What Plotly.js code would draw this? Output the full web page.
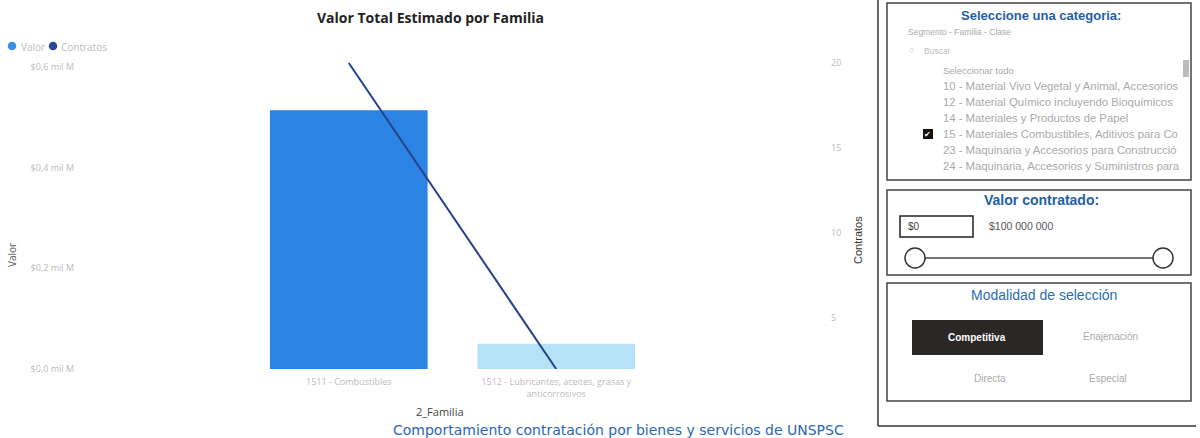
<!DOCTYPE html>
<html>
<head>
<meta charset="utf-8">
<script src="https://cdn.plot.ly/plotly-3.0.1.min.js"></script>
<style>html,body{margin:0;padding:0;background:#fff;}#chart{width:1200px;height:438px;}</style>
</head>
<body>
<div id="chart"></div>
<script>
// ---- data ----
var categories = ["1511 - Combustibles", "1512 - Lubricantes, aceites, grasas y anticorrosivos"];
var categoryLabels = ["1511 - Combustibles", "1512 - Lubricantes, aceites, grasas y<br>anticorrosivos"];
var valor = [0.514, 0.050];          // mil M
var contratos = [20, 2];
var valorTickVals = [0, 0.2, 0.4, 0.6];
var valorTickText = ["$0,0 mil M", "$0,2 mil M", "$0,4 mil M", "$0,6 mil M"];
var contratosTickVals = [5, 10, 15, 20];
var listItems = [
  "Seleccionar todo",
  "10 - Material Vivo Vegetal y Animal, Accesorios",
  "12 - Material Químico incluyendo Bioquímicos",
  "14 - Materiales y Productos de Papel",
  "15 - Materiales Combustibles, Aditivos para Co",
  "23 - Maquinaria y Accesorios para Construcció",
  "24 - Maquinaria, Accesorios y Suministros para"
];

// ---- layout helpers (pixel -> paper) ----
var ML = 75, MR = 370, MT = 55, MB = 69;
var PW = 1200 - ML - MR, PH = 438 - MT - MB;
function X(px) { return (px - ML) / PW; }
function Y(py) { return (438 - MB - py) / PH; }

var shapes = [];
var annotations = [];
function rect(x0, y0, x1, y1, line, fill, lw) {
  shapes.push({type: 'rect', xref: 'paper', yref: 'paper', x0: X(x0), x1: X(x1), y0: Y(y1), y1: Y(y0),
    line: {color: line || 'rgba(0,0,0,0)', width: lw === undefined ? 1.5 : lw}, fillcolor: fill || 'rgba(0,0,0,0)'});
}
function line(x0, y0, x1, y1, color, w) {
  shapes.push({type: 'line', xref: 'paper', yref: 'paper', x0: X(x0), x1: X(x1), y0: Y(y0), y1: Y(y1),
    line: {color: color, width: w}});
}
function circle(cx, cy, r, lineColor, fill) {
  shapes.push({type: 'circle', xref: 'paper', yref: 'paper', x0: X(cx - r), x1: X(cx + r), y0: Y(cy + r), y1: Y(cy - r),
    line: {color: lineColor || '#333', width: 1.5}, fillcolor: fill || '#fff'});
}
function text(px, py, t, opts) {
  opts = opts || {};
  annotations.push({xref: 'paper', yref: 'paper', x: X(px), y: Y(py), text: t, showarrow: false,
    xanchor: opts.xanchor || 'center', yanchor: 'middle', textangle: opts.angle || 0,
    font: {family: opts.family || 'Liberation Sans, Arial, sans-serif', size: opts.size || 10, color: opts.color || '#999'}});
}

// chart texts
text(430, 18, '<b>Valor Total Estimado por Familia</b>', {family: 'Open Sans, sans-serif', size: 14, color: '#222'});
// legend
circle(12, 46, 3.5, '#3b8ee6', '#3b8ee6');
text(19, 47, 'Valor', {xanchor: 'left', size: 10, color: '#bbb', family: 'Open Sans, sans-serif'});
circle(53, 46, 3.5, '#2c4a9c', '#2c4a9c');
text(59, 47, 'Contratos', {xanchor: 'left', size: 10, color: '#bbb', family: 'Open Sans, sans-serif'});

text(12, 255, 'Valor', {angle: -90, size: 10, color: '#555', family: 'Open Sans, sans-serif'});
text(858, 240, 'Contratos', {angle: -90, size: 11, color: '#333'});
text(440, 411, '2_Familia', {size: 11, color: '#444', family: 'Open Sans, sans-serif'});
text(618, 430, 'Comportamiento contratación por bienes y servicios de UNSPSC', {size: 14, color: '#2a66b3', family: 'DejaVu Sans, sans-serif'});

// right panel
line(878, 0, 878, 426, '#333', 1.5);
line(878, 426, 1196, 426, '#333', 1.5);
rect(887, 3, 1191, 180, '#444');
rect(887, 190, 1191, 275, '#444');
rect(887, 283, 1191, 401, '#444');

text(1041, 16, '<b>Seleccione una categoria:</b>', {size: 13, color: '#1f5fa8'});
text(906, 32, 'Segmento - Familia - Clase', {xanchor: 'left', size: 8.5, color: '#aaa'});
text(907, 50, '○', {xanchor: 'left', size: 9, color: '#bbb'});
text(922, 51, 'Buscar', {xanchor: 'left', size: 8.5, color: '#bbb'});
for (var i = 0; i < listItems.length; i++) {
  text(941, 70 + i * 16, listItems[i], {xanchor: 'left', size: i === 0 ? 9.5 : 11.3, color: '#aaa'});
}
rect(1183, 60, 1189, 77, null, '#bbb', 0);
rect(923, 129, 933, 139, null, '#111', 0);
text(928, 134, '✔', {size: 8, color: '#fff'});

text(1041, 200, '<b>Valor contratado:</b>', {size: 14, color: '#1f5fa8'});
rect(900, 216, 973, 237, '#222');
text(906, 226, '$0', {xanchor: 'left', size: 10, color: '#444'});
text(987, 226, '$100 000 000', {xanchor: 'left', size: 10.5, color: '#555'});
line(925, 258, 1153, 258, '#444', 1.5);
circle(915, 258, 10);
circle(1163, 258, 10);

text(1044, 295, 'Modalidad de selección', {size: 14, color: '#2a6db5'});
rect(912, 320, 1043, 355, null, '#2b2727', 0);
text(977, 337, '<b>Competitiva</b>', {size: 10, color: '#fff'});
text(1110, 336, 'Enajenación', {size: 10, color: '#aaa'});
text(990, 378, 'Directa', {size: 10, color: '#aaa'});
text(1108, 378, 'Especial', {size: 10, color: '#aaa'});

var traces = [
  {type: 'bar', x: categories, y: valor, name: 'Valor', width: 0.76,
   marker: {color: ['#2b84e3', '#b6e2f8']}, showlegend: false, yaxis: 'y', hoverinfo: 'y'},
  {type: 'scatter', mode: 'lines', x: categories, y: contratos, name: 'Contratos',
   line: {color: '#27408b', width: 2}, showlegend: false, yaxis: 'y2'}
];

var layout = {
  width: 1200, height: 438,
  margin: {l: ML, r: MR, t: MT, b: MB, pad: 0},
  paper_bgcolor: '#fff', plot_bgcolor: '#fff',
  showlegend: false,
  xaxis: {type: 'category', range: [-1.32, 2.32], tickvals: categories, ticktext: categoryLabels,
    showgrid: false, zeroline: false, showline: false, ticks: '', ticklabelstandoff: 6,
    tickfont: {family: 'Open Sans, sans-serif', size: 9, color: '#bbb'}, fixedrange: true},
  yaxis: {range: [0, 0.6236], tickvals: valorTickVals, ticktext: valorTickText, showgrid: false,
    zeroline: false, showline: false, ticks: '', ticklabelposition: 'outside',
    tickfont: {family: 'Open Sans, sans-serif', size: 9, color: '#bbb'}, automargin: false},
  yaxis2: {overlaying: 'y', side: 'right', range: [2, 20.47], tickvals: contratosTickVals,
    showgrid: false, zeroline: false, showline: false, ticks: '',
    tickfont: {family: 'Open Sans, sans-serif', size: 9, color: '#bbb'}, automargin: false},
  shapes: shapes,
  annotations: annotations
};

Plotly.newPlot('chart', traces, layout, {displayModeBar: false, staticPlot: true});
</script>
</body>
</html>
